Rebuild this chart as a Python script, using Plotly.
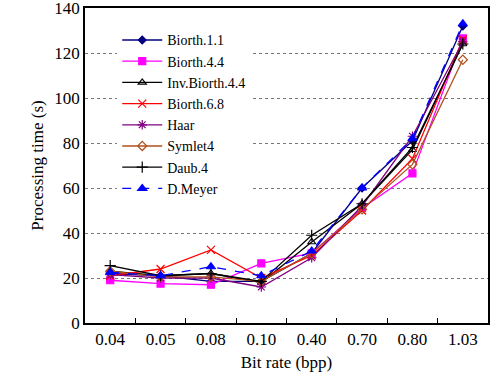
import plotly.graph_objects as go

categories = ["0.04", "0.05", "0.08", "0.10", "0.40", "0.70", "0.80", "1.03"]

biorth11 = [22, 21, 18.5, 18.5, 31, 60, 81, 132]
biorth44 = [19, 17.5, 17, 26.5, 31, 51, 66.5, 126.5]
inv_biorth44 = [23, 21, 22, 18, 36, 53, 77, 124]
biorth68 = [21, 24, 32.5, 20, 30, 50, 73, 126]
haar = [21.5, 20, 20, 16, 29, 52, 83, 125]
symlet4 = [23, 20.5, 20.5, 18.5, 31, 50.5, 70.5, 117]
daub4 = [25.5, 21, 22, 18.5, 39, 53, 78, 124]
dmeyer = [22.5, 21, 25, 21, 32, 60, 82, 133]

y_ticks = [0, 20, 40, 60, 80, 100, 120, 140]

series = [
    ("Biorth.1.1", biorth11, "#000080", "diamond", 6, "solid"),
    ("Biorth.4.4", biorth44, "#FF00FF", "square", 7, "solid"),
    ("Inv.Biorth.4.4", inv_biorth44, "#000000", "triangle-up-open", 7, "solid"),
    ("Biorth.6.8", biorth68, "#FF0000", "x-thin-open", 8, "solid"),
    ("Haar", haar, "#800080", "asterisk-open", 8, "solid"),
    ("Symlet4", symlet4, "#B0501C", "diamond-open", 7, "solid"),
    ("Daub.4", daub4, "#000000", "cross-thin-open", 8, "solid"),
    ("D.Meyer", dmeyer, "#0000FF", "triangle-up", 8, "dash"),
]

fig = go.Figure()
for name, vals, color, sym, size, dash in series:
    fig.add_trace(go.Scatter(
        x=categories, y=vals, name=name, mode="lines+markers",
        line=dict(color=color, width=1.3, dash=dash),
        marker=dict(symbol=sym, size=size, color=color,
                    line=dict(color=color, width=1.2)),
    ))

font = "Liberation Serif, Times New Roman, serif"
fig.update_layout(
    template="none",
    width=491, height=385,
    margin=dict(l=85, r=3, t=8, b=62, autoexpand=False),
    paper_bgcolor="white", plot_bgcolor="white",
    font=dict(family=font, size=17, color="black"),
    showlegend=True,
    legend=dict(x=0.08, y=0.948, xanchor="left", yanchor="top",
                bgcolor="white", borderwidth=0,
                font=dict(family=font, size=14, color="black"),
                itemwidth=40, tracegroupgap=0),
    xaxis=dict(
        type="category", range=[-0.5, 7.5], automargin=False,
        showline=True, linecolor="black", linewidth=1.5, mirror=True,
        ticks="inside", ticklen=5, tickcolor="black", tickson="boundaries",
        showgrid=False, zeroline=False,
        title=dict(text="Bit rate (bpp)", font=dict(family=font, size=17), standoff=8),
        tickfont=dict(family=font, size=17),
    ),
    yaxis=dict(
        range=[0, 140], tickvals=y_ticks, automargin=False,
        ticklabeloverflow="allow",
        showline=True, linecolor="black", linewidth=1.5, mirror=True,
        ticks="", showgrid=True, gridcolor="#777777", griddash="dot", gridwidth=1,
        zeroline=False,
        title=dict(text="Processing time (s)", font=dict(family=font, size=17), standoff=6),
        tickfont=dict(family=font, size=17),
    ),
)

fig.write_html("out.html", config={"displayModeBar": False},
               post_script="document.body.style.margin='0';")
